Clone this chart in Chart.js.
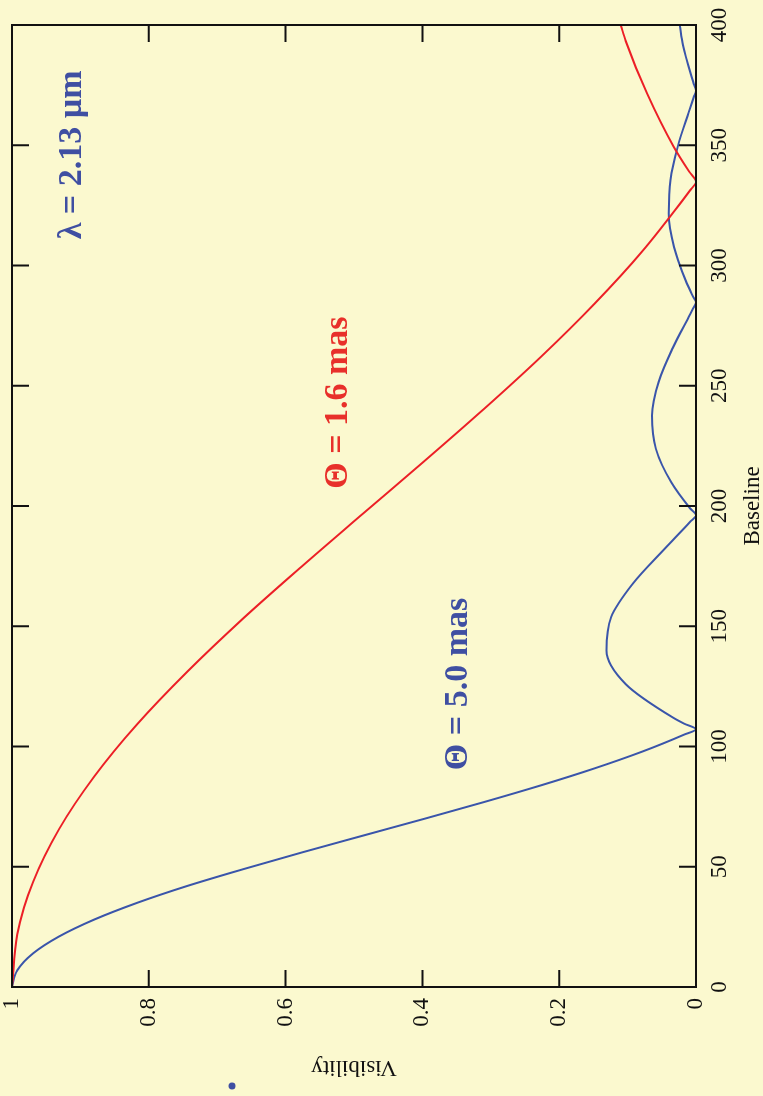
<!DOCTYPE html>
<html>
<head>
<meta charset="utf-8">
<title>Visibility vs Baseline</title>
<script src="https://cdn.jsdelivr.net/npm/chart.js@4.4.1/dist/chart.umd.min.js"></script>
<style>
    html, body {
        margin: 0;
        padding: 0;
        width: 763px;
        height: 1096px;
        overflow: hidden;
        background: #fbf9cf;
    }
    /* chart is drawn landscape, then turned a quarter turn to the left */
    #wrap {
        position: absolute;
        left: 0;
        top: 1096px;
        width: 1096px;
        height: 763px;
        transform-origin: 0 0;
        transform: rotate(-90deg);
    }
</style>
</head>
<body>
<div id="wrap"><canvas id="visChart" width="1096" height="763"></canvas></div>
<script>
// Uniform disk, theta = 5.0 mas (baseline in m, visibility)
var blueBaseline = [0, 7.0, 14.0, 21.0, 28.0, 35.0, 42.0, 48.9, 55.9, 62.9, 69.9, 76.9, 83.9, 90.9,
    97.9, 104.9, 107.2, 109.5, 111.9, 125.9, 139.9, 153.8, 167.8, 181.8, 193.5, 196.2, 199.0,
    209.8, 223.8, 237.7, 251.7, 265.7, 279.7, 282.0, 284.6, 287.0, 293.7, 307.7, 321.7, 335.6,
    349.6, 363.6, 370.0, 372.7, 375.5, 377.6, 391.6, 400];
var blueVis = [1, 0.9922, 0.9692, 0.9313, 0.8801, 0.8170, 0.7439, 0.6630, 0.5767, 0.4874, 0.3977,
    0.3098, 0.2261, 0.1484, 0.0785, 0.0177, 0, 0.0173, 0.0330, 0.1027, 0.1310, 0.1241, 0.0922,
    0.0473, 0.0083, 0, 0.0086, 0.0361, 0.0587, 0.0643, 0.0545, 0.0340, 0.0087, 0.0046, 0, 0.0042,
    0.0150, 0.0321, 0.0397, 0.0372, 0.0265, 0.0108, 0.0032, 0, 0.0033, 0.0056, 0.0191, 0.0238];

// Uniform disk, theta = 1.6 mas
var redBaseline = [0, 21.9, 43.7, 65.6, 87.4, 109.3, 131.1, 153.0, 174.8, 196.7, 218.5, 240.4,
    262.2, 284.1, 305.9, 327.8, 331.0, 334.9, 339.0, 349.6, 371.5, 393.3, 400];
var redVis = [1, 0.9922, 0.9692, 0.9313, 0.8801, 0.8170, 0.7439, 0.6630, 0.5767, 0.4874, 0.3977,
    0.3098, 0.2261, 0.1484, 0.0785, 0.0177, 0.0094, 0, 0.0099, 0.0330, 0.0715, 0.1027, 0.1100];

var baselineTicks = [0, 50, 100, 150, 200, 250, 300, 350, 400];
var visTicks = [0, 0.2, 0.4, 0.6, 0.8, 1];

// Annotation texts, anchored in data units [baseline, visibility]
var noteTexts = ['\u03bb = 2.13 \u00b5m', '\u0398 = 1.6 mas', '\u0398 = 5.0 mas'];
var noteBaseline = [346, 243, 126];
var noteVis = [0.912, 0.523, 0.348];
var noteColors = ['#3f4fa2', '#e8302a', '#3f4fa2'];

var BG = '#fbf9cf';
var SERIF = "'Liberation Serif', 'Times New Roman', serif";

function toPoints(xs, ys) {
    return xs.map(function(x, i) {
        return {x: x, y: ys[i]};
    });
}

// Keep tick labels from pushing the plot area inwards
function noScalePadding(scale) {
    scale.paddingTop = 0;
    scale.paddingBottom = 0;
    scale.paddingLeft = 0;
    scale.paddingRight = 0;
}

// Background, frame with inward ticks on all four sides, and the labels
var framePlugin = {
    id: 'frame',
    beforeDraw: function(chart) {
        var ctx = chart.ctx;
        ctx.save();
        ctx.fillStyle = BG;
        ctx.fillRect(0, 0, chart.width, chart.height);
        ctx.restore();
    },
    afterDatasetsDraw: function(chart) {
        var ctx = chart.ctx;
        var a = chart.chartArea;
        var xs = chart.scales.x;
        var ys = chart.scales.y;
        var len = 17;

        ctx.save();
        ctx.strokeStyle = '#111';
        ctx.lineWidth = 2;
        ctx.strokeRect(a.left, a.top, a.right - a.left, a.bottom - a.top);

        ctx.beginPath();
        baselineTicks.forEach(function(b) {
            var px = xs.getPixelForValue(b);
            ctx.moveTo(px, a.bottom);
            ctx.lineTo(px, a.bottom - len);
            ctx.moveTo(px, a.top);
            ctx.lineTo(px, a.top + len);
        });
        visTicks.forEach(function(v) {
            var py = ys.getPixelForValue(v);
            ctx.moveTo(a.left, py);
            ctx.lineTo(a.left + len, py);
            ctx.moveTo(a.right, py);
            ctx.lineTo(a.right - len, py);
        });
        ctx.stroke();

        // annotations
        ctx.font = 'bold 34px ' + SERIF;
        ctx.textAlign = 'center';
        ctx.textBaseline = 'middle';
        noteTexts.forEach(function(t, i) {
            ctx.fillStyle = noteColors[i];
            ctx.fillText(t, xs.getPixelForValue(noteBaseline[i]), ys.getPixelForValue(noteVis[i]));
        });

        // stray bullet left over below the plot
        ctx.fillStyle = '#3f4fa2';
        ctx.beginPath();
        ctx.arc(10, 232, 3.5, 0, Math.PI * 2);
        ctx.fill();
        ctx.restore();
    }
};

var ctx = document.getElementById('visChart').getContext('2d');

new Chart(ctx, {
    type: 'line',
    data: {
        datasets: [{
            label: '1.6 mas',
            data: toPoints(redBaseline, redVis),
            borderColor: '#ec1f26',
            borderWidth: 2,
            pointRadius: 0,
            cubicInterpolationMode: 'monotone',
            fill: false
        }, {
            label: '5.0 mas',
            data: toPoints(blueBaseline, blueVis),
            borderColor: '#3a55aa',
            borderWidth: 2,
            pointRadius: 0,
            cubicInterpolationMode: 'monotone',
            fill: false
        }]
    },
    options: {
        responsive: false,
        devicePixelRatio: 1,
        animation: false,
        layout: {
            autoPadding: false,
            padding: {top: 12, right: 25, bottom: 0, left: 0}
        },
        plugins: {
            legend: {display: false},
            tooltip: {enabled: false}
        },
        scales: {
            x: {
                type: 'linear',
                min: 0,
                max: 400,
                grid: {display: false, drawTicks: false},
                border: {display: false},
                afterBuildTicks: function(scale) {
                    scale.ticks = baselineTicks.map(function(v) { return {value: v}; });
                },
                afterFit: function(scale) {
                    scale.height = 67;
                    noScalePadding(scale);
                },
                ticks: {
                    color: '#111',
                    padding: 10,
                    maxRotation: 0,
                    font: {family: SERIF, size: 23}
                },
                title: {
                    display: true,
                    text: 'Baseline',
                    color: '#111',
                    padding: {top: 0, bottom: 0},
                    font: {family: SERIF, size: 23, lineHeight: '20px'}
                }
            },
            y: {
                min: 0,
                max: 1,
                grid: {display: false, drawTicks: false},
                border: {display: false},
                afterBuildTicks: function(scale) {
                    scale.ticks = visTicks.map(function(v) { return {value: v}; });
                },
                afterFit: function(scale) {
                    scale.width = 109;
                    noScalePadding(scale);
                },
                ticks: {
                    color: '#111',
                    padding: 11,
                    font: {family: SERIF, size: 23},
                    callback: function(v) { return String(Math.round(v * 10) / 10); }
                },
                title: {
                    display: true,
                    text: 'Visibility',
                    color: '#111',
                    padding: {top: 19, bottom: 0},
                    font: {family: SERIF, size: 23, lineHeight: '20px'}
                }
            }
        }
    },
    plugins: [framePlugin]
});
</script>
</body>
</html>
